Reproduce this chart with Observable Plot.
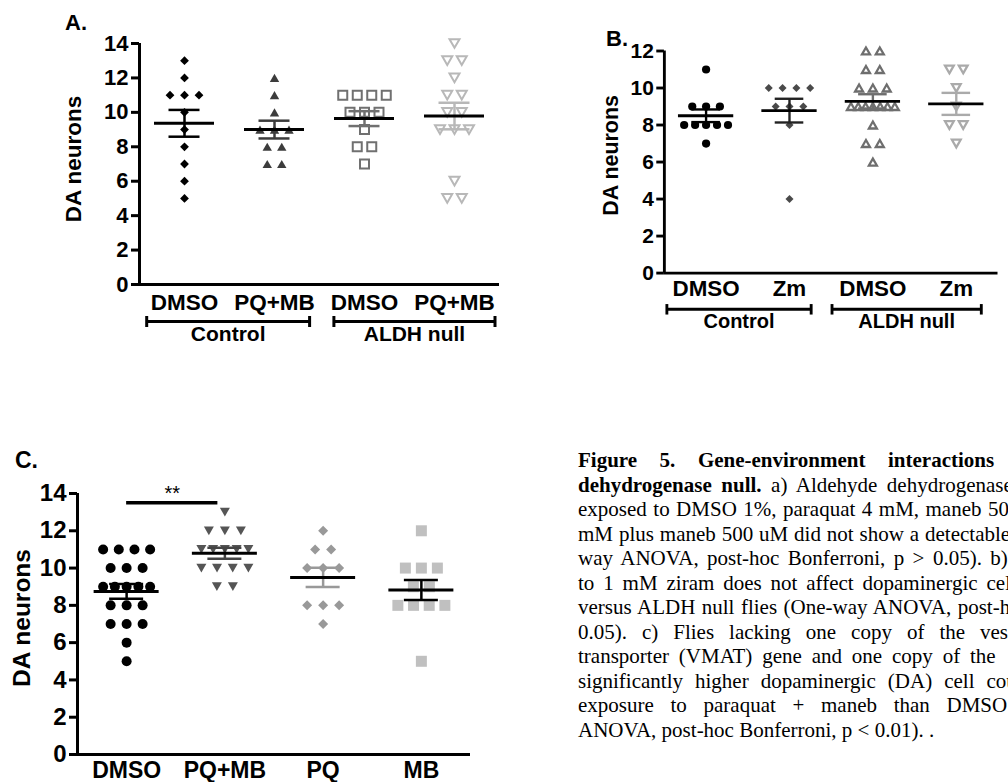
<!DOCTYPE html>
<html><head><meta charset="utf-8">
<script src="https://cdn.jsdelivr.net/npm/d3@7"></script>
<script src="https://cdn.jsdelivr.net/npm/@observablehq/plot@0.6"></script>
<style>
html,body{margin:0;padding:0;background:#fff;overflow:hidden;}
#fig{position:relative;width:1008px;height:782px;overflow:hidden;font-family:"Liberation Sans",Arial,sans-serif;color:#000;}
.panel{position:absolute;}
.plabel{position:absolute;font-weight:bold;font-size:22px;line-height:22px;}
#caption{position:absolute;left:578px;top:448px;font-family:"Liberation Serif","Times New Roman",serif;font-size:21px;line-height:24.5px;color:#000;}
#caption .ln{height:24.5px;white-space:nowrap;}
</style></head>
<body>
<div id="fig">
  <div class="panel" id="panelA" style="left:0;top:0"></div>
  <div class="panel" id="panelB" style="left:560px;top:0"></div>
  <div class="panel" id="panelC" style="left:0;top:400px"></div>
  <div class="plabel" style="left:65px;top:12px">A.</div>
  <div class="plabel" style="left:606px;top:28px">B.</div>
  <div class="plabel" style="left:15px;top:449px;font-size:23px">C.</div>
  <div id="caption"></div>
</div>
<script>
// ---------- DATA ----------
const yLabel = "DA neurons";
// Panel A
const aCats = ["DMSO", "PQ+MB", "DMSO", "PQ+MB"];
const aControlDMSO = [13, 12, 11, 11, 11, 10, 9, 8, 7, 6, 5];
const aControlPQMB = [12, 11, 10, 9, 9, 9, 8, 8, 7, 7];
const aAldhDMSO = [11, 11, 11, 11, 10, 10, 10, 9, 8, 8, 7];
const aAldhPQMB = [14, 13, 13, 12, 11, 11, 10, 10, 9, 9, 9, 6, 5, 5];
const aTicks = [0, 2, 4, 6, 8, 10, 12, 14];
const aGroupLabels = ["Control", "ALDH null"];
const aGroupFrom = [-0.42, 1.66];
const aGroupTo = [1.39, 3.45];
// Panel B
const bCats = ["DMSO", "Zm", "DMSO", "Zm"];
const bControlDMSO = [11, 9, 9, 9, 8, 8, 8, 8, 8, 7];
const bControlZm = [10, 10, 10, 10, 9, 9, 9, 8, 4];
const bAldhDMSO = [12, 12, 11, 11, 10, 10, 10, 9, 9, 9, 9, 9, 9, 9, 8, 7, 7, 6];
const bAldhZm = [11, 11, 10, 9, 8, 8, 7];
const bTicks = [0, 2, 4, 6, 8, 10, 12];
const bGroupLabels = ["Control", "ALDH null"];
const bGroupFrom = [-0.47, 1.51];
const bGroupTo = [1.26, 3.30];
// Panel C
const cCats = ["DMSO", "PQ+MB", "PQ", "MB"];
const cDMSO = [11, 11, 11, 11, 10, 10, 10, 9, 9, 9, 9, 9, 8, 8, 8, 7, 7, 7, 6, 5];
const cPQMB = [13, 12, 12, 12, 11, 11, 11, 11, 11, 10, 10, 10, 10, 9, 9];
const cPQ = [12, 11, 11, 10, 10, 10, 8, 8, 8, 7];
const cMB = [12, 10, 10, 10, 9, 9, 8, 8, 8, 8, 5];
const cTicks = [0, 2, 4, 6, 8, 10, 12, 14];
const cSigFrom = ["DMSO"];
const cSigTo = ["PQ+MB"];
const cSigLevel = [13.5];
const cSigText = ["**"];
// Caption (visible part of each justified line)
const captionBold = [
  "Figure 5. Gene-environment interactions",
  "dehydrogenase null.", "", "", "", "", "", "", "", "", "", ""
];
const captionText = [
  "",
  " a) Aldehyde dehydrogenase",
  "exposed to DMSO 1%, paraquat 4 mM, maneb 500",
  "mM plus maneb 500 uM did not show a detectable",
  "way ANOVA, post-hoc Bonferroni, p > 0.05). b)",
  "to 1 mM ziram does not affect dopaminergic cell",
  "versus ALDH null flies (One-way ANOVA, post-hoc",
  "0.05). c) Flies lacking one copy of the vesicular",
  "transporter (VMAT) gene and one copy of the",
  "significantly higher dopaminergic (DA) cell counts",
  "exposure to paraquat + maneb than DMSO",
  "ANOVA, post-hoc Bonferroni, p < 0.01). ."
];
// layout: x where the last word of each justified line starts
const capLeft = 578;
const capLastWordX = [888, 888, 988, 925, 991.5, 986.5, 960, 980, 970, 986.5, 946.5, null];

// ---------- SYMBOLS ----------
const rad = s => Math.sqrt(s / Math.PI);
const SYM = {
  circle: {draw(c, s) { const r = rad(s); c.moveTo(r, 0); c.arc(0, 0, r, 0, 2 * Math.PI); }},
  diamond: {draw(c, s) { const r = rad(s); c.moveTo(0, -r); c.lineTo(r, 0); c.lineTo(0, r); c.lineTo(-r, 0); c.closePath(); }},
  triUp: {draw(c, s) { const r = rad(s), h = r * 0.87; c.moveTo(0, -h); c.lineTo(r, h); c.lineTo(-r, h); c.closePath(); }},
  triDown: {draw(c, s) { const r = rad(s), h = r * 0.87; c.moveTo(0, h); c.lineTo(r, -h); c.lineTo(-r, -h); c.closePath(); }},
  square: {draw(c, s) { const r = rad(s); c.rect(-r, -r, 2 * r, 2 * r); }},
  vbar: {draw(c, s) { const r = rad(s); c.moveTo(0, -r); c.lineTo(0, r); }}
};

function panel(cfg) {
  const n = cfg.cats.length;
  const band = (cfg.width - cfg.ml - cfg.mr) / n;
  const u = px => px / band;
  const pts = [];
  cfg.series.forEach((vals, g) => {
    const counts = d3.rollup(vals, v => v.length, d => d);
    const seen = new Map();
    vals.forEach(v => {
      const cnt = counts.get(v), k = seen.get(v) || 0;
      seen.set(v, k + 1);
      const sp = cnt > 1 ? Math.min(cfg.spacing, cfg.spread / (cnt - 1)) : 0;
      pts.push({g, v, x: g + u((k - (cnt - 1) / 2) * sp)});
    });
  });
  const stats = cfg.series.map((vals, i) => ({i, mean: d3.mean(vals), sem: d3.deviation(vals) / Math.sqrt(vals.length)}));
  const marks = [];
  cfg.series.forEach((vals, g) => {
    const st = cfg.styles[g];
    marks.push(Plot.dot(pts.filter(p => p.g === g), {
      x: "x", y: "v", symbol: SYM[st.symbol], r: st.r,
      fill: st.fill || "none", stroke: st.stroke || "none", strokeWidth: st.sw || 0
    }));
  });
  stats.forEach((s, g) => {
    const st = cfg.styles[g];
    marks.push(Plot.ruleX([s], {x: "i", y1: d => d.mean - d.sem, y2: d => d.mean + d.sem, stroke: st.sem, strokeWidth: 2.5}));
    marks.push(Plot.ruleY([s.mean - s.sem, s.mean + s.sem], {x1: g - u(cfg.capHalf), x2: g + u(cfg.capHalf), stroke: st.sem, strokeWidth: 2.5}));
    marks.push(Plot.ruleY([s.mean], {x1: g - u(cfg.meanHalf), x2: g + u(cfg.meanHalf), stroke: "#000", strokeWidth: 3}));
  });
  // axes
  marks.push(Plot.ruleY([0], {stroke: "#000", strokeWidth: 3}));
  marks.push(Plot.ruleX([-0.5], {stroke: "#000", strokeWidth: 3}));
  marks.push(Plot.axisY({ticks: cfg.ticks, tickSize: 8, tickPadding: 3, strokeWidth: 3, fontSize: cfg.tickFont, fontWeight: "bold", label: null}));
  marks.push(Plot.axisX({ticks: d3.range(n), tickFormat: i => cfg.cats[i], tickSize: 0, tickPadding: cfg.xPad, fontSize: cfg.catFont, fontWeight: "bold", label: null}));
  marks.push(Plot.text([cfg.yLabel], {frameAnchor: "left", textAnchor: "middle", rotate: -90, dx: cfg.yLabelDx, dy: cfg.yLabelDy, fontSize: cfg.yLabelFont, fontWeight: "bold", fill: "#000"}));
  if (cfg.groups) {
    const gr = cfg.groups.labels.map((label, i) => ({label, x1: cfg.groups.from[i], x2: cfg.groups.to[i]}));
    marks.push(Plot.ruleY(gr, {y: () => 0, x1: "x1", x2: "x2", dy: cfg.groups.dy, stroke: "#000", strokeWidth: 3}));
    const ends = gr.flatMap(d => [{x: d.x1}, {x: d.x2}]);
    marks.push(Plot.dot(ends, {x: "x", y: () => 0, dy: cfg.groups.dy, symbol: SYM.vbar, r: 5.5, stroke: "#000", strokeWidth: 3}));
    marks.push(Plot.text(gr, {x: d => (d.x1 + d.x2) / 2, y: () => 0, dy: cfg.groups.labelDy, text: "label", fontSize: cfg.groups.font, fontWeight: "bold", fill: "#000"}));
  }
  if (cfg.sig) {
    const sg = cfg.sig.from.map((f, i) => ({x1: cfg.cats.indexOf(f), x2: cfg.cats.indexOf(cfg.sig.to[i]) - u(7), y: cfg.sig.level[i], t: cfg.sig.text[i]}));
    marks.push(Plot.ruleY(sg, {y: "y", x1: "x1", x2: "x2", stroke: "#000", strokeWidth: 3.5}));
    marks.push(Plot.text(sg, {x: d => (d.x1 + d.x2) / 2, y: "y", text: "t", dy: -9, fontSize: 20, fill: "#000"}));
  }
  const svg = Plot.plot({
    width: cfg.width, height: cfg.height,
    marginLeft: cfg.ml, marginRight: cfg.mr, marginTop: cfg.mt, marginBottom: cfg.mb,
    x: {domain: [-0.5, n - 0.5]},
    y: {domain: [0, cfg.yMax]},
    style: {fontFamily: "'Liberation Sans', Arial, sans-serif", background: "transparent", overflow: "visible", color: "#000"},
    marks
  });
  document.querySelector(cfg.el).appendChild(svg);
}

panel({
  el: "#panelA", cats: aCats, series: [aControlDMSO, aControlPQMB, aAldhDMSO, aAldhPQMB],
  styles: [
    {symbol: "diamond", r: 4.4, fill: "#000", sem: "#000"},
    {symbol: "triUp", r: 4.7, fill: "#3c3c3c", sem: "#3c3c3c"},
    {symbol: "square", r: 4.5, stroke: "#707070", sw: 2, sem: "#707070"},
    {symbol: "triDown", r: 5, stroke: "#b8b8b8", sw: 2, sem: "#b8b8b8"}
  ],
  width: 520, height: 360, ml: 139, mr: 21, mt: 43, mb: 76, yMax: 14, ticks: aTicks,
  spacing: 14.5, spread: 46, capHalf: 15.5, meanHalf: 30,
  tickFont: 22, catFont: 22.5, xPad: 10, yLabel, yLabelFont: 22.5, yLabelDx: -66, yLabelDy: -5,
  groups: {labels: aGroupLabels, from: aGroupFrom, to: aGroupTo, dy: 37, labelDy: 50, font: 21}
});
panel({
  el: "#panelB", cats: bCats, series: [bControlDMSO, bControlZm, bAldhDMSO, bAldhZm],
  styles: [
    {symbol: "circle", r: 4.3, fill: "#000", sem: "#000"},
    {symbol: "diamond", r: 4.2, fill: "#4a4a4a", sem: "#222"},
    {symbol: "triUp", r: 4.2, stroke: "#6e6e6e", sw: 2.4, sem: "#6e6e6e"},
    {symbol: "triDown", r: 4.6, stroke: "#aaaaaa", sw: 2.4, sem: "#aaaaaa"}
  ],
  width: 470, height: 360, ml: 109, mr: 11, mt: 53, mb: 74, yMax: 12, ticks: bTicks,
  spacing: 14.5, spread: 46, capHalf: 15, meanHalf: 29,
  tickFont: 22, catFont: 23.5, xPad: 7, yLabel, yLabelFont: 22.5, yLabelDx: -56, yLabelDy: -7,
  groups: {labels: bGroupLabels, from: bGroupFrom, to: bGroupTo, dy: 38, labelDy: 51, font: 21}
});
panel({
  el: "#panelC", cats: cCats, series: [cDMSO, cPQMB, cPQ, cMB],
  styles: [
    {symbol: "circle", r: 5, fill: "#000", sem: "#000"},
    {symbol: "triDown", r: 5, fill: "#555555", sem: "#444444"},
    {symbol: "diamond", r: 5, fill: "#999999", sem: "#999999"},
    {symbol: "square", r: 5.5, fill: "#c0c0c0", sem: "#000"}
  ],
  width: 490, height: 382, ml: 77, mr: 20, mt: 93, mb: 28, yMax: 14, ticks: cTicks,
  spacing: 16, spread: 47, capHalf: 17, meanHalf: 32.5,
  tickFont: 24, catFont: 23, xPad: 7, yLabel, yLabelFont: 24.5, yLabelDx: -55, yLabelDy: -6,
  sig: {from: cSigFrom, to: cSigTo, level: cSigLevel, text: cSigText}
});

// caption: justified lines reproduced with measured word spacing
const capFontReg = "21px 'Liberation Serif'";
const capFontBold = "bold 21px 'Liberation Serif'";
const mctx = document.createElement("canvas").getContext("2d");
const mw = (font, s) => { if (!s) return 0; mctx.font = font; return mctx.measureText(s).width; };
const cap = document.getElementById("caption");
captionText.forEach((t, i) => {
  const bold = captionBold[i], full = bold + t;
  const div = document.createElement("div");
  div.className = "ln";
  if (bold) { const b = document.createElement("b"); b.textContent = bold; div.appendChild(b); }
  if (t) div.appendChild(document.createTextNode(t));
  const target = capLastWordX[i];
  if (target != null) {
    const k = full.lastIndexOf(" ");
    const pref = full.slice(0, k + 1);
    const w = mw(capFontBold, pref.slice(0, Math.min(bold.length, pref.length))) + mw(capFontReg, pref.slice(bold.length));
    const spaces = (pref.match(/ /g) || []).length;
    div.style.wordSpacing = ((target - capLeft - w) / spaces) + "px";
  }
  cap.appendChild(div);
});
</script>
</body></html>
